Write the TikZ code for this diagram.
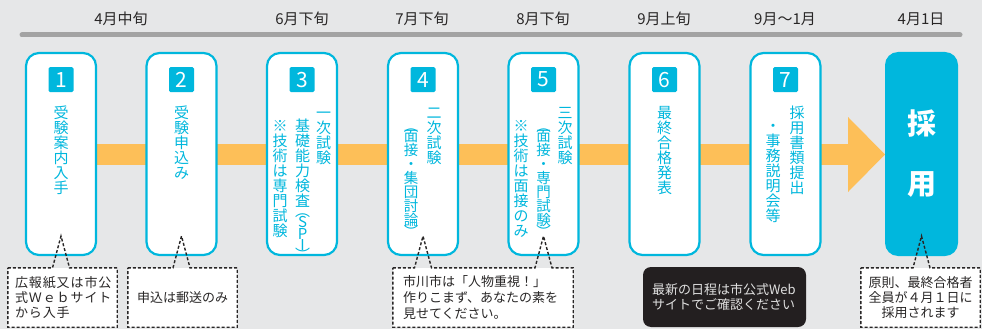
\documentclass[tikz,border=0pt]{standalone}
\usepackage{fontspec}
\setmainfont{Noto Sans CJK JP}
\usetikzlibrary{positioning,calc}
\definecolor{bgc}{RGB}{230,231,232}
\definecolor{cyn}{RGB}{0,183,221}
\definecolor{org}{RGB}{253,191,88}
\definecolor{ink}{RGB}{40,38,38}
\definecolor{rule}{RGB}{163,163,163}
\definecolor{night}{RGB}{35,31,32}
\newcommand{\kstrut}{\vphantom{受}}
\tikzset{
  stg/.style ={draw=cyn, line width=2.2pt, fill=white, rounded corners=13pt, minimum width=70pt, minimum height=202pt, inner sep=0pt},
  num/.style ={fill=cyn, text=white, rounded corners=1.5pt, minimum size=25pt, inner sep=0pt, font=\fontsize{21}{21}\selectfont},
  vt/.style  ={anchor=north, align=center, inner sep=0pt, text=cyn, font=\fontsize{15}{14.9}\selectfont},
  vtp/.style ={vt, font=\fontsize{14.5}{14}\selectfont},
  when/.style={text=ink, font=\fontsize{15}{15}\selectfont},
  memo/.style={fill=white, inner sep=0pt, minimum height=59pt, text=ink, font=\fontsize{13}{15}\selectfont},
  dsh/.style ={draw=ink, line width=1.4pt, dash pattern=on 3pt off 2pt}
}
\begin{document}
\begin{tikzpicture}[x=1pt, y=-1pt]
\fill[bgc] (0,0) rectangle (982,329);
\useasboundingbox (0,0) rectangle (982,329);
\draw[rule, line width=5pt, line cap=round] (22,35) -- (960,35);

% dates
\node[when] (d1) at (121,19) {4月中旬};
\node[when] (d3) at (302,19) {6月下旬};
\node[when] (d4) at (422,19) {7月下旬};
\node[when] (d5) at (543,19) {8月下旬};
\node[when] (d6) at (664,19) {9月上旬};
\node[when] (d7) at (785,19) {9月〜1月};
\node[when] (d8) at (921,19) {4月1日};

% band and arrow
\fill[org] (61,144) rectangle (849,165);
\fill[org] (848,117) -- (885,154.5) -- (848,192) -- cycle;

% stages
\node[stg] (s1) at (61,154) {};
\node[stg] (s2) at (181.5,154) {};
\node[stg] (s3) at (302,154) {};
\node[stg] (s4) at (423,154) {};
\node[stg] (s5) at (543.5,154) {};
\node[stg] (s6) at (664.5,154) {};
\node[stg] (s7) at (785.5,154) {};
\node[stg, draw=none, fill=cyn, minimum width=73pt, minimum height=204pt, text=white, align=center,
  font=\bfseries\fontsize{29}{60}\selectfont] (fin) at (921.5,154) {採\\用};

\node[num, below=15pt of s1.north] (n1) {1};
\node[num, below=15pt of s2.north] (n2) {2};
\node[num, below=15pt of s3.north] (n3) {3};
\node[num, below=15pt of s4.north] (n4) {4};
\node[num, below=15pt of s5.north] (n5) {5};
\node[num, below=15pt of s6.north] (n6) {6};
\node[num, below=15pt of s7.north] (n7) {7};

\node[vt] (t1) at (61,106) {\kstrut 受\\験\\案\\内\\入\\手};
\node[vt] (t2) at (181.5,106) {\kstrut 受\\験\\申\\込\\み};
\node[vt] (t3a) at (323.5,106) {\kstrut 一\\次\\試\\験};
\node[vt] (t3b) at (302.5,119) {\kstrut 基\\礎\\能\\力\\検\\査\\[-5pt]︵\\[-4pt]S\\[-3pt]P\\[-3pt]I\\[-5pt]︶};
\node[vt] (t3c) at (280,119) {\kstrut ※\\技\\術\\は\\専\\門\\試\\験};
\node[vt] (t4a) at (434,106) {\kstrut 二\\次\\試\\験};
\node[vtp] (t4b) at (411,119) {\kstrut ︵\\[-4pt]面\\接\\・\\集\\団\\討\\論\\[-2pt]︶};
\node[vt] (t5a) at (565,106) {\kstrut 三\\次\\試\\験};
\node[vtp] (t5b) at (543.5,119) {\kstrut ︵\\[-4pt]面\\接\\・\\専\\門\\試\\験\\[-2pt]︶};
\node[vt] (t5c) at (521,119) {\kstrut ※\\技\\術\\は\\面\\接\\の\\み};
\node[vt] (t6) at (664.5,106) {\kstrut 最\\終\\合\\格\\発\\表};
\node[vt] (t7a) at (797,106) {\kstrut 採\\用\\書\\類\\提\\出};
\node[vt] (t7b) at (773,119) {\kstrut ・\\事\\務\\説\\明\\会\\等};

% notes
\node[memo, minimum width=109pt, text width=95pt, align=left,
  font=\fontsize{13}{14.7}\selectfont\addfontfeatures{LetterSpace=7}] (c1) at (62.5,297.5)
  {広報紙又は市公\\式Ｗｅｂサイト\\から入手};
\node[memo, minimum width=109pt] (c2) at (182.5,297.5) {申込は郵送のみ};
\node[memo, minimum width=180pt, text width=160pt, align=left, font=\fontsize{13}{16}\selectfont] (c4) at (483,297.5)
  {市川市は「人物重視！」\\作りこまず、あなたの素を\\見せてください。};
\node[memo, minimum width=119pt, align=center] (c8) at (920.5,297.5)
  {原則、最終合格者\\全員が４月１日に\\採用されます};
\node[fill=night, rounded corners=8pt, minimum width=163pt, minimum height=60pt, text width=145pt, align=left,
  text=white!88!black, font=\fontsize{13}{15}\selectfont] (news) at (724.5,297)
  {最新の日程は市公式Web\\サイトでご確認ください};

\coordinate (p1) at ($(s1.south)+(0,-20)$);
\coordinate (p2) at ($(s2.south)+(0,-20)$);
\coordinate (p4) at ($(s4.south)+(0,-20)$);
\coordinate (p5) at ($(s5.south)+(0,-20)$);
\coordinate (p8) at ($(fin.south)+(0,-21)$);
\draw[dsh] (c1.north west) -- ($(p1 |- c1.north)+(-8.5,0)$) -- (p1) -- ($(p1 |- c1.north)+(8.5,0)$)
  -- (c1.north east) -- (c1.south east) -- (c1.south west) -- cycle;
\draw[dsh] (c2.north west) -- ($(p2 |- c2.north)+(-8.5,0)$) -- (p2) -- ($(p2 |- c2.north)+(8.5,0)$)
  -- (c2.north east) -- (c2.south east) -- (c2.south west) -- cycle;
\draw[dsh] (c4.north west) -- ($(p4 |- c4.north)+(-8.5,0)$) -- (p4) -- ($(p4 |- c4.north)+(8.5,0)$)
  -- ($(p5 |- c4.north)+(-8.5,0)$) -- (p5) -- ($(p5 |- c4.north)+(8.5,0)$)
  -- (c4.north east) -- (c4.south east) -- (c4.south west) -- cycle;
\draw[dsh] (c8.north west) -- ($(p8 |- c8.north)+(-8.5,0)$) -- (p8) -- ($(p8 |- c8.north)+(8.5,0)$)
  -- (c8.north east) -- (c8.south east) -- (c8.south west) -- cycle;
\end{tikzpicture}
\end{document}
